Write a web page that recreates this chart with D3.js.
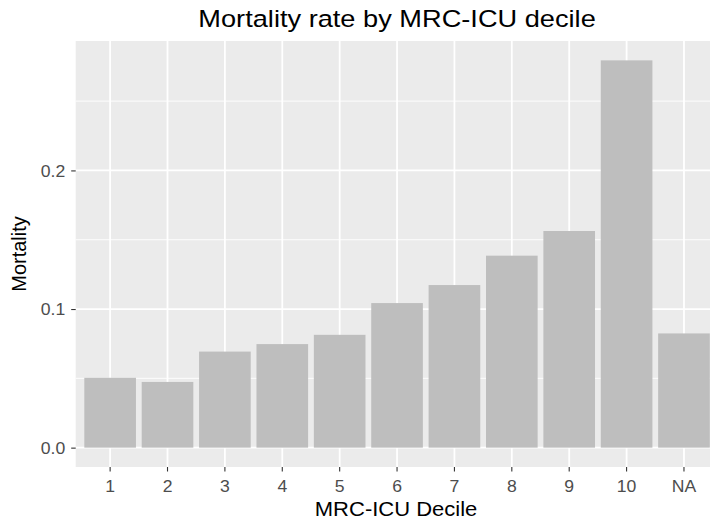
<!DOCTYPE html>
<html>
<head>
<meta charset="utf-8">
<script src="https://cdn.jsdelivr.net/npm/d3@7"></script>
<style>
  body { margin: 0; background: #fff; }
  svg text { font-family: "Liberation Sans", Arial, sans-serif; }
</style>
</head>
<body>
<div id="chart"></div>
<script>
var deciles = ['1', '2', '3', '4', '5', '6', '7', '8', '9', '10', 'NA'];
var mortality = [0.0504, 0.0474, 0.0693, 0.0747, 0.0814, 0.1043, 0.1173, 0.1385, 0.1563, 0.2794, 0.0824];
var yTicks = [0, 0.1, 0.2];
var yMinor = [0.05, 0.15, 0.25];

var width = 710, height = 524;
// panel runs a bit past the right edge of the window, as in the original
var panel = {left: 75.7, right: 718.4, top: 41, bottom: 467};
var stretch = 1.1; // text in the original is slightly wide

var svg = d3.select('#chart').append('svg')
  .attr('width', width)
  .attr('height', height);

var x = d3.scaleBand()
  .domain(deciles)
  .range([panel.left, panel.right])
  .paddingInner(0.1)
  .paddingOuter(0.15);

var yMax = d3.max(mortality);
var y = d3.scaleLinear()
  .domain([-0.05 * yMax, yMax * 1.05])
  .range([panel.bottom, panel.top]);

/* panel background */
svg.append('rect')
  .attr('x', panel.left)
  .attr('y', panel.top)
  .attr('width', panel.right - panel.left)
  .attr('height', panel.bottom - panel.top)
  .attr('fill', '#EBEBEB');

var grid = svg.append('g');

grid.selectAll('.minor')
  .data(yMinor)
  .enter().append('line')
  .attr('x1', panel.left).attr('x2', panel.right)
  .attr('y1', function(d) { return y(d); })
  .attr('y2', function(d) { return y(d); })
  .attr('stroke', '#fff')
  .attr('stroke-width', 0.9);

grid.selectAll('.major-y')
  .data(yTicks)
  .enter().append('line')
  .attr('x1', panel.left).attr('x2', panel.right)
  .attr('y1', function(d) { return y(d); })
  .attr('y2', function(d) { return y(d); })
  .attr('stroke', '#fff')
  .attr('stroke-width', 1.8);

grid.selectAll('.major-x')
  .data(deciles)
  .enter().append('line')
  .attr('y1', panel.top).attr('y2', panel.bottom)
  .attr('x1', function(d) { return x(d) + x.bandwidth() / 2; })
  .attr('x2', function(d) { return x(d) + x.bandwidth() / 2; })
  .attr('stroke', '#fff')
  .attr('stroke-width', 1.8);

/* bars */
svg.append('g').selectAll('rect')
  .data(mortality)
  .enter().append('rect')
  .attr('x', function(d, i) { return x(deciles[i]); })
  .attr('width', x.bandwidth())
  .attr('y', function(d) { return y(d); })
  .attr('height', function(d) { return y(0) - y(d); })
  .attr('fill', '#BEBEBE');

/* axes */
var xAxis = svg.append('g')
  .attr('transform', 'translate(0,' + panel.bottom + ')')
  .call(d3.axisBottom(x).tickSize(4.5).tickSizeOuter(0));

var yAxis = svg.append('g')
  .attr('transform', 'translate(' + panel.left + ',0)')
  .call(d3.axisLeft(y).tickValues(yTicks).tickFormat(d3.format('.1f')).tickSize(4.5).tickSizeOuter(0));

[xAxis, yAxis].forEach(function(ax) {
  ax.select('.domain').remove();
  ax.selectAll('.tick line').attr('stroke', '#333333').attr('stroke-width', 1.1);
  ax.selectAll('.tick text')
    .attr('fill', '#4D4D4D')
    .style('font-size', '16px');
});

xAxis.selectAll('.tick text')
  .attr('y', null).attr('dy', null)
  .attr('transform', 'translate(0,24.5) scale(' + stretch + ',1)');

yAxis.selectAll('.tick text')
  .attr('x', null)
  .attr('dy', '0.36em')
  .attr('transform', 'translate(-10.5,0) scale(' + stretch + ',1)');

/* titles */
var centerX = (panel.left + panel.right) / 2;

svg.append('text')
  .attr('transform', 'translate(' + centerX + ',27.3) scale(1.12,1)')
  .attr('text-anchor', 'middle')
  .style('font-size', '24.3px')
  .attr('fill', '#000')
  .text('Mortality rate by MRC-ICU decile');

svg.append('text')
  .attr('transform', 'translate(' + (centerX - 1) + ',516) scale(' + stretch + ',1)')
  .attr('text-anchor', 'middle')
  .style('font-size', '20px')
  .attr('fill', '#000')
  .text('MRC-ICU Decile');

svg.append('text')
  .attr('transform', 'translate(26,' + ((panel.top + panel.bottom) / 2) + ') rotate(-90)')
  .attr('text-anchor', 'middle')
  .style('font-size', '20px')
  .attr('fill', '#000')
  .text('Mortality');
</script>
</body>
</html>
